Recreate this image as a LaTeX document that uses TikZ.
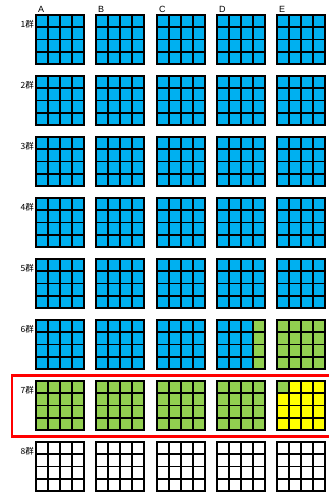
\documentclass[tikz,border=0pt]{standalone}
\usepackage{fontspec}
\setmainfont{Liberation Sans}
\newfontfamily\jpfont{Noto Sans CJK JP}
\definecolor{cellblue}{HTML}{00B0F0}
\definecolor{cellgreen}{HTML}{92D050}
\definecolor{cellyellow}{HTML}{FFFF00}
\definecolor{markred}{HTML}{FF0000}
\begin{document}
\begin{tikzpicture}[
  x=1pt,y=-1pt,
  gline/.style={line width=1.6pt,line cap=rect},
  rowlbl/.style={font=\jpfont\fontsize{8.5}{10}\selectfont,anchor=east,inner sep=0pt},
  collbl/.style={font=\fontsize{9}{10}\selectfont,anchor=base west,inner sep=0pt},
  redbox/.style={draw=markred,line width=2.8pt}
]
\useasboundingbox (0,0) rectangle (329,493);
% Rows 1-5: all blue
\foreach \gy in {15,76,137,198,259}
  \foreach \gx in {36,96,157,217,277}
    \fill[cellblue] (\gx,\gy) rectangle +(48,49);
% Row 6
\foreach \gx/\fc in {36/cellblue,96/cellblue,157/cellblue,217/cellblue,277/cellgreen}
  \fill[\fc] (\gx,320) rectangle +(48,49);
\fill[cellgreen] (253,320) rectangle +(12,49);
% Row 7
\foreach \gx/\fc in {36/cellgreen,96/cellgreen,157/cellgreen,217/cellgreen,277/cellyellow}
  \fill[\fc] (\gx,381) rectangle +(48,49);
\fill[cellgreen] (277,381) rectangle +(12,12.25);
% Grid lines
\foreach \gy in {15,76,137,198,259,320,381,442}
  \foreach \gx in {36,96,157,217,277}
    \foreach \k in {0,...,4} {
      \draw[gline] ({\gx+12*\k},\gy) -- +(0,49);
      \draw[gline] (\gx,{\gy+12.25*\k}) -- +(48,0);
    }
% Labels
\foreach \gx/\t in {36/A,96/B,157/C,217/D,277/E}
  \node[collbl] (c\t) at ({\gx+2},12.5) {\t};
\foreach \n/\gy in {1/15,2/76,3/137,4/198,5/259,6/320,7/381,8/442}
  \node[rowlbl] (g\n) at (34,{\gy+9}) {{\n}群};
% Highlight
\draw[redbox] (12,375.3) rectangle (340,436.3);
\end{tikzpicture}
\end{document}
